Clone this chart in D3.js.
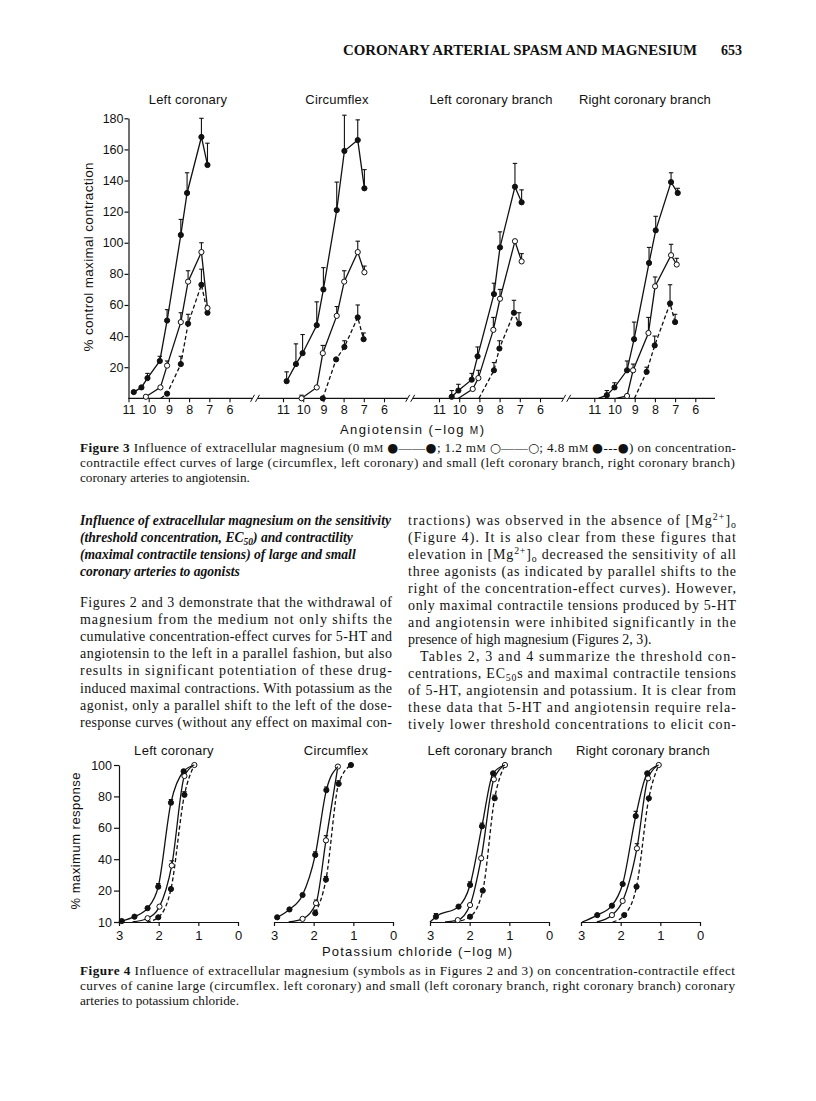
<!DOCTYPE html>
<html><head><meta charset="utf-8">
<script src="https://cdn.jsdelivr.net/npm/d3@7"></script>
<style>body{margin:0;background:#fff}svg{display:block}</style>
</head><body>
<svg id="page" width="816" height="1101"></svg>
<script>
// ---------------- DATA ----------------
// Figure 3 : angiotensin, [ -log M, % control maximal contraction, SEM, marker drawn(1/0) ]
const fig3Panels = ["Left coronary", "Circumflex", "Left coronary branch", "Right coronary branch"];
const fig3XTicks = [11, 10, 9, 8, 7, 6];
const fig3YTicks = [20, 40, 60, 80, 100, 120, 140, 160, 180];
const f3_LC_mg0  = [[10.74,4,0,1],[10.36,7,0,1],[10.06,13,3,1],[9.45,24,3,1],[9.09,50,7,1],[8.41,105,10,1],[8.10,132,13,1],[7.39,168,12,1],[7.09,150,14,1]];
const f3_LC_mg12 = [[10.14,1,0,1],[9.42,7,0,1],[9.09,21,3,1],[8.41,49,6,1],[8.05,75,7,1],[7.39,94,6,1],[7.09,58,0,1]];
const f3_LC_mg48 = [[9.40,0,0,0],[9.09,3,0,1],[8.41,22,5,1],[8.05,48,6,1],[7.39,73,10,1],[7.09,55,0,1]];
const f3_CX_mg0  = [[10.82,11,6,1],[10.36,22,13,1],[10.03,29,12,1],[9.33,47,15,1],[9.00,70,14,1],[8.34,121,18,1],[7.96,159,23,1],[7.30,166,13,1],[6.97,135,12,1]];
const f3_CX_mg12 = [[10.08,0,2,1],[9.33,7,0,1],[9.03,29,5,1],[8.34,53,6,1],[7.97,75,7,1],[7.30,94,7,1],[6.97,81,4,1]];
const f3_CX_mg48 = [[9.03,0,0,1],[8.37,25,0,1],[7.96,33,4,1],[7.30,52,8,1],[7.01,38,4,1]];
const f3_LB_mg0  = [[10.37,1,4,1],[10.04,5,4,1],[9.38,12,4,1],[9.09,27,6,1],[8.28,67,7,1],[7.98,97,10,1],[7.24,136,15,1],[6.91,126,8,1]];
const f3_LB_mg12 = [[10.04,0,0,0],[9.33,6,0,1],[9.05,13,5,1],[8.31,44,8,1],[7.98,64,6,1],[7.24,101,0,1],[6.91,88,5,1]];
const f3_LB_mg48 = [[9.02,0,0,0],[8.28,18,5,1],[8.01,32,5,1],[7.29,55,8,1],[7.04,48,7,1]];
const f3_RB_mg0  = [[10.80,0,0,0],[10.38,2,3,1],[10.00,7,3,1],[9.38,18,6,1],[9.03,38,11,1],[8.29,87,10,1],[7.96,108,9,1],[7.20,139,6,1],[6.87,132,3,1]];
const f3_RB_mg12 = [[9.91,0,0,0],[9.38,1.5,0,1],[9.08,18,4,1],[8.32,42,10,1],[7.99,72,6,1],[7.20,92,7,1],[6.92,86,4,1]];
const f3_RB_mg48 = [[9.01,0,0,0],[8.41,17,3,1],[8.01,34,6,1],[7.25,61,12,1],[7.00,49,5,1]];

// Figure 4 : potassium chloride, [ -log M, % maximum response, SEM, marker drawn(1/0) ]
const fig4Panels = ["Left coronary", "Circumflex", "Left coronary branch", "Right coronary branch"];
const fig4XTicks = [3, 2, 1, 0];
const fig4YTicks = [10, 20, 40, 60, 80, 100];
const f4_LC_mg0  = [[2.93,10.3,0,1],[2.61,11.7,0,1],[2.28,14.4,0,1],[2.01,22.5,2,1],[1.69,76,2,1],[1.37,96,1,1],[1.10,100,0,0]];
const f4_LC_mg12 = [[2.66,10,0,0],[2.28,11.2,0,1],[1.98,14.9,0,1],[1.67,36,3,1],[1.35,93,0,1],[1.10,100,0,1]];
const f4_LC_mg48 = [[2.30,10,0,0],[2.01,11.5,0,1],[1.69,21,0,1],[1.35,81,2,1],[1.10,100,0,0]];
const f4_CX_mg0  = [[2.92,11.5,0,1],[2.61,14,0,1],[2.28,18.6,0,1],[1.96,42.7,2,1],[1.68,84,2,1],[1.39,99,0,0]];
const f4_CX_mg12 = [[2.63,10,0,0],[2.28,11,0,1],[1.94,16,1,1],[1.69,52,3,1],[1.39,99,0,1]];
const f4_CX_mg48 = [[1.96,12.8,1,1],[1.69,27,2,1],[1.37,88,2,1],[1.06,100,0,1]];
const f4_LB_mg0  = [[3.00,10,0,0],[2.85,11.7,1,1],[2.28,14.9,0,1],[1.99,23.6,2,1],[1.69,61,2,1],[1.41,94.7,0,1],[1.11,100,0,0]];
const f4_LB_mg12 = [[2.62,10,0,0],[2.30,10.6,0,1],[1.99,15.4,0,1],[1.71,40.6,0,1],[1.39,90.9,0,1],[1.11,100,0,1]];
const f4_LB_mg48 = [[2.38,10,0,0],[1.99,11.7,0,1],[1.67,20,0,1],[1.37,78.8,2,1],[1.11,100,0,0]];
const f4_RB_mg0  = [[2.97,10,0,0],[2.59,12.2,0,1],[2.22,15.2,0,1],[1.95,24.2,0,1],[1.62,67.5,3,1],[1.33,94.7,0,1],[1.04,100,0,0]];
const f4_RB_mg12 = [[2.60,10,0,0],[2.22,12.2,0,1],[1.95,16.7,0,1],[1.59,46.9,3,1],[1.31,91.5,0,1],[1.04,100,0,1]];
const f4_RB_mg48 = [[2.20,10,0,0],[1.91,12.2,0,1],[1.60,22.5,0,1],[1.29,78.8,0,1],[1.04,100,0,0]];

// text
const headerText = "CORONARY ARTERIAL SPASM AND MAGNESIUM";
const pageNumber = "653";

// ---------------- DRAWING ----------------
const svg = d3.select("#page");
const SANS = "'Liberation Sans', Arial, Helvetica, sans-serif";
const SERIF = "'Liberation Serif', 'Times New Roman', serif";
const INK = "#111";
const fmtInt = d3.format("d");

function addText(g, x, y, parts, o = {}) {
  const size = o.size || 14;
  const t = g.append("text").attr("x", x).attr("y", y)
    .attr("font-family", o.family || SERIF).attr("font-size", size).attr("fill", INK);
  if (o.anchor) t.attr("text-anchor", o.anchor);
  if (o.italic) t.attr("font-style", "italic");
  if (o.bold) t.attr("font-weight", "bold");
  if (o.ls) t.attr("letter-spacing", o.ls);
  if (typeof parts === "string") parts = [[parts]];
  let prev = 0;
  parts.forEach(([s, st]) => {
    st = st || "";
    const sp = t.append("tspan").text(s);
    let shift = 0;
    if (st.includes("B")) sp.attr("font-weight", "bold");
    if (st.includes("I")) sp.attr("font-style", "italic");
    if (st.includes("_")) { shift = size * 0.22; sp.attr("font-size", size * 0.7); }
    if (st.includes("^")) { shift = -size * 0.35; sp.attr("font-size", size * 0.7); }
    if (st.includes("s")) sp.attr("font-size", size * 0.78);
    if (st.includes("y")) sp.attr("font-family", "'DejaVu Sans', sans-serif").attr("font-size", size * 0.95);
    if (shift !== prev) sp.attr("dy", shift - prev);
    prev = shift;
  });
  if (o.len) t.attr("textLength", o.len).attr("lengthAdjust", o.adj || "spacing");
  return t;
}

// Header
addText(svg, 343, 55, headerText, {size: 14.5, bold: true, len: 354, adj: "spacingAndGlyphs"});
addText(svg, 721, 55, pageNumber, {size: 14, bold: true});

function drawSeries(g, data, x, y, open, dashed, curve) {
  const line = d3.line().x(d => x(d[0])).y(d => y(d[1])).curve(curve);
  g.append("path").attr("d", line(data)).attr("fill", "none")
    .attr("stroke", INK).attr("stroke-width", 1.3)
    .attr("stroke-dasharray", dashed ? "4,2.5" : null);
  data.filter(d => d[2] > 0).forEach(d => {
    const cx = x(d[0]), y0 = y(d[1]), y1 = y(d[1] + d[2]);
    g.append("line").attr("x1", cx).attr("x2", cx).attr("y1", y0).attr("y2", y1)
      .attr("stroke", INK).attr("stroke-width", 1.1);
    g.append("line").attr("x1", cx - 2.2).attr("x2", cx + 2.2).attr("y1", y1).attr("y2", y1)
      .attr("stroke", INK).attr("stroke-width", 1.1);
  });
  g.selectAll(null).data(data.filter(d => d[3])).join("circle")
    .attr("cx", d => x(d[0])).attr("cy", d => y(d[1])).attr("r", 2.6)
    .attr("fill", open ? "#fff" : INK).attr("stroke", INK).attr("stroke-width", 1);
}

// ---------- Figure 3 ----------
const fig3 = svg.append("g");
const f3Origins = [128.5, 283, 439, 594.3];
const f3TitleX = [188, 337, 491, 645];
const f3Series = [
  [f3_LC_mg0, f3_LC_mg12, f3_LC_mg48],
  [f3_CX_mg0, f3_CX_mg12, f3_CX_mg48],
  [f3_LB_mg0, f3_LB_mg12, f3_LB_mg48],
  [f3_RB_mg0, f3_RB_mg12, f3_RB_mg48]
];
const y3 = d3.scaleLinear().domain([0, 180]).range([398.3, 118.3]);
const AX3 = y3(0);

const gy3 = fig3.append("g").attr("transform", `translate(${f3Origins[0]},0)`)
  .call(d3.axisLeft(y3).tickValues(fig3YTicks).tickFormat(fmtInt).tickSize(4).tickPadding(1).tickSizeOuter(0));
gy3.attr("font-family", SANS).attr("font-size", 12.5);
gy3.selectAll("path,line").attr("stroke", INK).attr("stroke-width", 1.2);
gy3.selectAll("text").attr("fill", INK);

const segs3 = [[128.5, 252], [258, 407.5], [413, 563], [569.5, 715]];
segs3.forEach(s => fig3.append("line").attr("x1", s[0]).attr("x2", s[1]).attr("y1", AX3).attr("y2", AX3)
  .attr("stroke", INK).attr("stroke-width", 1.2));
[255, 410.2, 566.2].forEach(b => {
  [-2.5, 2.5].forEach(o => fig3.append("line")
    .attr("x1", b + o - 2).attr("y1", AX3 + 3.5).attr("x2", b + o + 2).attr("y2", AX3 - 3.5)
    .attr("stroke", INK).attr("stroke-width", 1));
});

f3Series.forEach((ser, i) => {
  const x = d3.scaleLinear().domain([11, 6]).range([f3Origins[i], f3Origins[i] + 101]);
  const gx = fig3.append("g").attr("transform", `translate(0,${AX3})`)
    .call(d3.axisBottom(x).tickValues(fig3XTicks).tickFormat(fmtInt).tickSize(4).tickPadding(3).tickSizeOuter(0));
  gx.select(".domain").remove();
  gx.attr("font-family", SANS).attr("font-size", 12.5);
  gx.selectAll("line").attr("stroke", INK).attr("stroke-width", 1.1);
  gx.selectAll("text").attr("fill", INK);
  const g = fig3.append("g");
  drawSeries(g, ser[2], x, y3, false, true, d3.curveLinear);
  drawSeries(g, ser[1], x, y3, true, false, d3.curveLinear);
  drawSeries(g, ser[0], x, y3, false, false, d3.curveLinear);
  addText(fig3, f3TitleX[i], 104, fig3Panels[i], {family: SANS, size: 13, anchor: "middle", ls: 0.2});
});

addText(fig3.append("g").attr("transform", "translate(93,257) rotate(-90)"), 0, 0,
  "% control maximal contraction", {family: SANS, size: 13.5, anchor: "middle", len: 189});
addText(fig3, 340, 434, [["Angiotensin (\u2212log "], ["M", "s"], [")"]], {family: SANS, size: 13, len: 144});

// Figure 3 caption
addText(svg, 80, 452, [["Figure 3", "B"], ["  Influence of extracellular magnesium (0 m"], ["M", "s"], [" "], ["\u25CF", "y"], ["\u2014\u2014"], ["\u25CF", "y"], ["; 1.2 m"], ["M", "s"],
  [" "], ["\u25CB", "y"], ["\u2014\u2014"], ["\u25CB", "y"], ["; 4.8 m"], ["M", "s"], [" "], ["\u25CF", "y"], ["---"], ["\u25CF", "y"], [") on concentration-"]], {size: 13.2, len: 656});
addText(svg, 80, 467, "contractile effect curves of large (circumflex, left coronary) and small (left coronary branch, right coronary branch)", {size: 13.2, len: 655});
addText(svg, 80, 482, "coronary arteries to angiotensin.", {size: 13.2});

// ---------- Body text ----------
const leftHead = [
  "Influence of extracellular magnesium on the sensitivity",
  [["(threshold concentration, EC"], ["50", "_"], [") and contractility"]],
  "(maximal contractile tensions) of large and small",
  "coronary arteries to agonists"
];
leftHead.forEach((l, i) => addText(svg, 80, 525 + i * 17, l, {size: 13.6, italic: true, bold: true, len: i === 0 ? 311 : null}));
const leftBody = [
  "Figures 2 and 3 demonstrate that the withdrawal of",
  "magnesium from the medium not only shifts the",
  "cumulative concentration-effect curves for 5-HT and",
  "angiotensin to the left in a parallel fashion, but also",
  "results in significant potentiation of these drug-",
  "induced maximal contractions. With potassium as the",
  "agonist, only a parallel shift to the left of the dose-",
  "response curves (without any effect on maximal con-"
];
leftBody.forEach((l, i) => addText(svg, 80, 607 + i * 17.1, l, {size: 14, len: 312}));
const rightBody = [
  [[[ "tractions) was observed in the absence of [Mg"], ["2+", "^"], ["]"], ["o", "_"]], 1],
  ["(Figure 4). It is also clear from these figures that", 1],
  [[["elevation in [Mg"], ["2+", "^"], ["]"], ["o", "_"], [" decreased the sensitivity of all"]], 1],
  ["three agonists (as indicated by parallel shifts to the", 1],
  ["right of the concentration-effect curves). However,", 1],
  ["only maximal contractile tensions produced by 5-HT", 1],
  ["and angiotensin were inhibited significantly in the", 1],
  ["presence of high magnesium (Figures 2, 3).", 0],
  ["Tables 2, 3 and 4 summarize the threshold con-", 2],
  [[["centrations, EC"], ["50", "_"], ["s and maximal contractile tensions"]], 1],
  ["of 5-HT, angiotensin and potassium. It is clear from", 1],
  ["these data that 5-HT and angiotensin require rela-", 1],
  ["tively lower threshold concentrations to elicit con-", 1]
];
rightBody.forEach(([l, j], i) => {
  const x0 = j === 2 ? 420 : 408;
  addText(svg, x0, 525 + i * 17, l, {size: 14, len: j ? 736 - x0 : null});
});

// ---------- Figure 4 ----------
const fig4 = svg.append("g");
const f4Origins = [119, 274, 430, 581];
const f4TitleX = [174, 336, 490, 643];
const f4Series = [
  [f4_LC_mg0, f4_LC_mg12, f4_LC_mg48],
  [f4_CX_mg0, f4_CX_mg12, f4_CX_mg48],
  [f4_LB_mg0, f4_LB_mg12, f4_LB_mg48],
  [f4_RB_mg0, f4_RB_mg12, f4_RB_mg48]
];
const y4 = d3.scaleLinear().domain([10, 20, 40, 60, 80, 100]).range([922, 890.6, 859.2, 827.8, 796.4, 765]);
const AX4 = y4(10);
const gy4 = fig4.append("g").attr("transform", `translate(${f4Origins[0]},0)`)
  .call(d3.axisLeft(y4).tickValues(fig4YTicks).tickFormat(fmtInt).tickSize(5).tickPadding(2).tickSizeOuter(0));
gy4.attr("font-family", SANS).attr("font-size", 12.5);
gy4.selectAll("path,line").attr("stroke", INK).attr("stroke-width", 1.2);
gy4.selectAll("text").attr("fill", INK);

f4Series.forEach((ser, i) => {
  const x = d3.scaleLinear().domain([3, 0]).range([f4Origins[i], f4Origins[i] + 119]);
  const gx = fig4.append("g").attr("transform", `translate(0,${AX4})`)
    .call(d3.axisBottom(x).tickValues(fig4XTicks).tickFormat(fmtInt).tickSize(4).tickPadding(5).tickSizeOuter(0));
  gx.attr("font-family", SANS).attr("font-size", 13);
  gx.selectAll("path,line").attr("stroke", INK).attr("stroke-width", 1.2);
  gx.selectAll("text").attr("fill", INK);
  const g = fig4.append("g");
  drawSeries(g, ser[2], x, y4, false, true, d3.curveMonotoneX);
  drawSeries(g, ser[1], x, y4, true, false, d3.curveMonotoneX);
  drawSeries(g, ser[0], x, y4, false, false, d3.curveMonotoneX);
  addText(fig4, f4TitleX[i], 755, fig4Panels[i], {family: SANS, size: 13, anchor: "middle", ls: 0.3});
});
addText(fig4.append("g").attr("transform", "translate(80,841) rotate(-90)"), 0, 0,
  "% maximum response", {family: SANS, size: 13, anchor: "middle", len: 137});
addText(fig4, 322, 956, [["Potassium chloride (\u2212log "], ["M", "s"], [")"]], {family: SANS, size: 13, len: 190});

// Figure 4 caption
addText(svg, 80, 975, [["Figure 4", "B"], ["  Influence of extracellular magnesium (symbols as in Figures 2 and 3) on concentration-contractile effect"]], {size: 13.2, len: 655});
addText(svg, 80, 990, "curves of canine large (circumflex. left coronary) and small (left coronary branch, right coronary branch) coronary", {size: 13.2, len: 655});
addText(svg, 80, 1005, "arteries to potassium chloride.", {size: 13.2});
</script>
</body></html>
